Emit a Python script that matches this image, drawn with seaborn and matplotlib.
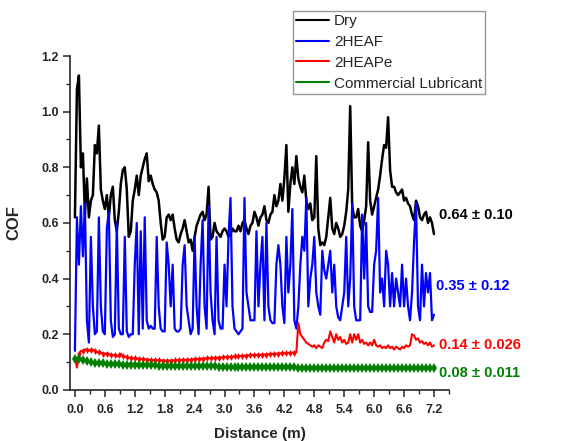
import numpy as np
import pandas as pd
import matplotlib
matplotlib.use("Agg")
import matplotlib.pyplot as plt
from matplotlib.lines import Line2D
from matplotlib.ticker import MultipleLocator, FormatStrFormatter
import seaborn as sns

# Sliding distance (m), shared by all four runs
distance = [
    0.00, 0.04, 0.08, 0.12, 0.16, 0.20, 0.24, 0.28, 0.32, 0.36,
    0.40, 0.44, 0.48, 0.52, 0.56, 0.60, 0.64, 0.68, 0.72, 0.76,
    0.80, 0.84, 0.88, 0.92, 0.96, 1.00, 1.04, 1.08, 1.12, 1.16,
    1.20, 1.24, 1.28, 1.32, 1.36, 1.40, 1.44, 1.48, 1.52, 1.56,
    1.60, 1.64, 1.68, 1.72, 1.76, 1.80, 1.84, 1.88, 1.92, 1.96,
    2.00, 2.04, 2.08, 2.12, 2.16, 2.20, 2.24, 2.28, 2.32, 2.36,
    2.40, 2.44, 2.48, 2.52, 2.56, 2.60, 2.64, 2.68, 2.72, 2.76,
    2.80, 2.84, 2.88, 2.92, 2.96, 3.00, 3.04, 3.08, 3.12, 3.16,
    3.20, 3.24, 3.28, 3.32, 3.36, 3.40, 3.44, 3.48, 3.52, 3.56,
    3.60, 3.64, 3.68, 3.72, 3.76, 3.80, 3.84, 3.88, 3.92, 3.96,
    4.00, 4.04, 4.08, 4.12, 4.16, 4.20, 4.24, 4.28, 4.32, 4.36,
    4.40, 4.44, 4.48, 4.52, 4.56, 4.60, 4.64, 4.68, 4.72, 4.76,
    4.80, 4.84, 4.88, 4.92, 4.96, 5.00, 5.04, 5.08, 5.12, 5.16,
    5.20, 5.24, 5.28, 5.32, 5.36, 5.40, 5.44, 5.48, 5.52, 5.56,
    5.60, 5.64, 5.68, 5.72, 5.76, 5.80, 5.84, 5.88, 5.92, 5.96,
    6.00, 6.04, 6.08, 6.12, 6.16, 6.20, 6.24, 6.28, 6.32, 6.36,
    6.40, 6.44, 6.48, 6.52, 6.56, 6.60, 6.64, 6.68, 6.72, 6.76,
    6.80, 6.84, 6.88, 6.92, 6.96, 7.00, 7.04, 7.08, 7.12, 7.16,
    7.20,
]

cof_dry = [
    0.62, 1.08, 1.13, 0.80, 0.85, 0.63, 0.76, 0.62, 0.68, 0.70,
    0.88, 0.85, 0.95, 0.72, 0.68, 0.65, 0.70, 0.62, 0.70, 0.73,
    0.61, 0.57, 0.64, 0.74, 0.79, 0.80, 0.72, 0.55, 0.57, 0.68,
    0.72, 0.77, 0.70, 0.77, 0.80, 0.83, 0.85, 0.75, 0.77, 0.74,
    0.72, 0.71, 0.68, 0.60, 0.54, 0.55, 0.62, 0.63, 0.61, 0.63,
    0.58, 0.54, 0.53, 0.56, 0.58, 0.61, 0.57, 0.53, 0.54, 0.50,
    0.55, 0.59, 0.61, 0.63, 0.64, 0.61, 0.63, 0.73, 0.54, 0.55,
    0.60, 0.57, 0.56, 0.55, 0.57, 0.58, 0.57, 0.55, 0.56, 0.58,
    0.57, 0.57, 0.59, 0.57, 0.60, 0.61, 0.58, 0.56, 0.59, 0.60,
    0.64, 0.62, 0.59, 0.62, 0.63, 0.66, 0.61, 0.60, 0.63, 0.64,
    0.70, 0.66, 0.68, 0.74, 0.68, 0.76, 0.88, 0.64, 0.74, 0.80,
    0.74, 0.84, 0.76, 0.73, 0.71, 0.77, 0.68, 0.65, 0.67, 0.61,
    0.62, 0.84, 0.58, 0.52, 0.53, 0.52, 0.55, 0.62, 0.69, 0.58,
    0.56, 0.60, 0.58, 0.55, 0.56, 0.59, 0.64, 0.72, 1.02, 0.66,
    0.62, 0.62, 0.65, 0.59, 0.57, 0.61, 0.66, 0.89, 0.68, 0.63,
    0.66, 0.69, 0.72, 0.77, 0.83, 0.88, 0.87, 0.98, 0.79, 0.73,
    0.73, 0.71, 0.70, 0.71, 0.72, 0.68, 0.69, 0.67, 0.66, 0.63,
    0.61, 0.68, 0.66, 0.62, 0.61, 0.63, 0.64, 0.60, 0.62, 0.60,
    0.56,
]

cof_2heaf = [
    0.14, 0.62, 0.45, 0.66, 0.48, 0.67, 0.25, 0.17, 0.55, 0.30,
    0.20, 0.21, 0.62, 0.30, 0.21, 0.20, 0.58, 0.64, 0.25, 0.19,
    0.20, 0.60, 0.22, 0.20, 0.20, 0.55, 0.21, 0.19, 0.20, 0.20,
    0.45, 0.60, 0.20, 0.57, 0.22, 0.62, 0.25, 0.22, 0.23, 0.22,
    0.22, 0.55, 0.30, 0.22, 0.21, 0.21, 0.53, 0.45, 0.30, 0.45,
    0.22, 0.21, 0.21, 0.22, 0.45, 0.52, 0.30, 0.25, 0.20, 0.22,
    0.55, 0.30, 0.20, 0.45, 0.61, 0.30, 0.22, 0.66, 0.35, 0.25,
    0.20, 0.55, 0.25, 0.22, 0.22, 0.45, 0.30, 0.55, 0.69, 0.30,
    0.22, 0.21, 0.20, 0.21, 0.22, 0.69, 0.35, 0.30, 0.25, 0.25,
    0.25, 0.57, 0.30, 0.45, 0.55, 0.25, 0.60, 0.30, 0.25, 0.24,
    0.24, 0.45, 0.52, 0.45, 0.30, 0.24, 0.55, 0.35, 0.45, 0.65,
    0.25, 0.22, 0.30, 0.45, 0.55, 0.50, 0.69, 0.30, 0.40, 0.45,
    0.55, 0.35, 0.30, 0.27, 0.50, 0.43, 0.40, 0.45, 0.50, 0.35,
    0.45, 0.30, 0.26, 0.25, 0.30, 0.35, 0.55, 0.30, 0.40, 0.67,
    0.30, 0.25, 0.25, 0.25, 0.63, 0.40, 0.60, 0.30, 0.28, 0.28,
    0.45, 0.50, 0.69, 0.35, 0.40, 0.30, 0.50, 0.45, 0.30, 0.42,
    0.30, 0.40, 0.35, 0.30, 0.45, 0.30, 0.40, 0.30, 0.25, 0.35,
    0.53, 0.67, 0.30, 0.25, 0.45, 0.30, 0.42, 0.35, 0.42, 0.25,
    0.27,
]

cof_2heape = [
    0.12, 0.08, 0.13, 0.14, 0.14, 0.145, 0.145, 0.14, 0.145, 0.145,
    0.14, 0.135, 0.135, 0.135, 0.13, 0.13, 0.13, 0.13, 0.125, 0.125,
    0.125, 0.12, 0.125, 0.13, 0.12, 0.12, 0.118, 0.116, 0.115, 0.114,
    0.113, 0.112, 0.112, 0.111, 0.110, 0.110, 0.109, 0.108, 0.108, 0.107,
    0.107, 0.106, 0.106, 0.106, 0.105, 0.105, 0.105, 0.105, 0.105, 0.106,
    0.106, 0.106, 0.107, 0.107, 0.108, 0.108, 0.108, 0.109, 0.109, 0.110,
    0.110, 0.111, 0.111, 0.112, 0.112, 0.113, 0.113, 0.114, 0.114, 0.115,
    0.115, 0.116, 0.116, 0.117, 0.117, 0.118, 0.118, 0.119, 0.119, 0.120,
    0.120, 0.121, 0.121, 0.122, 0.122, 0.123, 0.123, 0.124, 0.124, 0.125,
    0.125, 0.125, 0.126, 0.126, 0.127, 0.127, 0.127, 0.128, 0.128, 0.129,
    0.129, 0.130, 0.130, 0.131, 0.131, 0.132, 0.132, 0.133, 0.133, 0.134,
    0.134, 0.135, 0.24, 0.20, 0.19, 0.18, 0.17, 0.165, 0.16, 0.155,
    0.16, 0.15, 0.16, 0.155, 0.15, 0.17, 0.18, 0.175, 0.21, 0.19,
    0.17, 0.20, 0.18, 0.19, 0.17, 0.18, 0.165, 0.17, 0.20, 0.17,
    0.20, 0.18, 0.20, 0.17, 0.18, 0.165, 0.17, 0.16, 0.17, 0.16,
    0.18, 0.16, 0.155, 0.16, 0.15, 0.155, 0.15, 0.16, 0.15, 0.155,
    0.145, 0.155, 0.15, 0.145, 0.155, 0.15, 0.16, 0.155, 0.16, 0.20,
    0.195, 0.18, 0.185, 0.17, 0.175, 0.165, 0.17, 0.16, 0.17, 0.155,
    0.16,
]

cof_commercial = [
    0.110, 0.115, 0.112, 0.110, 0.108, 0.106, 0.104, 0.102, 0.100, 0.099,
    0.098, 0.097, 0.096, 0.096, 0.095, 0.095, 0.094, 0.094, 0.093, 0.093,
    0.092, 0.092, 0.092, 0.091, 0.091, 0.091, 0.090, 0.090, 0.090, 0.090,
    0.089, 0.089, 0.089, 0.089, 0.089, 0.088, 0.088, 0.088, 0.088, 0.088,
    0.088, 0.087, 0.087, 0.087, 0.087, 0.087, 0.087, 0.086, 0.086, 0.086,
    0.086, 0.086, 0.086, 0.086, 0.085, 0.085, 0.085, 0.085, 0.085, 0.085,
    0.085, 0.085, 0.084, 0.084, 0.084, 0.084, 0.084, 0.084, 0.084, 0.084,
    0.084, 0.083, 0.083, 0.083, 0.083, 0.083, 0.083, 0.083, 0.083, 0.083,
    0.083, 0.082, 0.082, 0.082, 0.082, 0.082, 0.082, 0.082, 0.082, 0.082,
    0.082, 0.082, 0.082, 0.081, 0.081, 0.081, 0.081, 0.081, 0.081, 0.081,
    0.081, 0.081, 0.081, 0.081, 0.081, 0.081, 0.081, 0.081, 0.081, 0.081,
    0.081, 0.080, 0.080, 0.080, 0.080, 0.080, 0.080, 0.080, 0.080, 0.080,
    0.080, 0.080, 0.080, 0.080, 0.080, 0.080, 0.080, 0.080, 0.080, 0.080,
    0.080, 0.080, 0.080, 0.080, 0.080, 0.080, 0.080, 0.080, 0.080, 0.080,
    0.080, 0.079, 0.079, 0.079, 0.079, 0.079, 0.079, 0.079, 0.079, 0.079,
    0.079, 0.079, 0.079, 0.079, 0.079, 0.079, 0.079, 0.079, 0.079, 0.079,
    0.079, 0.079, 0.079, 0.079, 0.079, 0.079, 0.079, 0.079, 0.079, 0.079,
    0.079, 0.079, 0.079, 0.079, 0.079, 0.079, 0.079, 0.079, 0.079, 0.079,
    0.079,
]

series_names = ["Dry", "2HEAF", "2HEAPe", "Commercial Lubricant"]
series_colors = ["#000000", "#0000FF", "#FF0000", "#008000"]
mean_labels = ["0.64 \u00b1 0.10", "0.35 \u00b1 0.12", "0.14 \u00b1 0.026", "0.08 \u00b1 0.011"]
label_y = [0.63, 0.375, 0.162, 0.062]
label_x = [7.31, 7.25, 7.31, 7.31]

df = pd.DataFrame({
    "Distance": distance,
    "Dry": cof_dry,
    "2HEAF": cof_2heaf,
    "2HEAPe": cof_2heape,
    "Commercial Lubricant": cof_commercial,
})

sns.set_style("ticks")
plt.rcParams['font.family'] = ['Liberation Sans', 'DejaVu Sans']

fig = plt.figure(figsize=(5.64, 4.41), dpi=100)
ax = fig.add_axes([0.124, 0.116, 0.672, 0.757])

# ---------- LINES
sns.lineplot(data=df, x="Distance", y="Dry", color=series_colors[0],
             linewidth=1.8, ax=ax, legend=False)
sns.lineplot(data=df, x="Distance", y="2HEAF", color=series_colors[1],
             linewidth=1.6, ax=ax, legend=False)
sns.lineplot(data=df, x="Distance", y="2HEAPe", color=series_colors[2],
             linewidth=1.5, marker="d", markersize=3.5, markeredgewidth=0,
             markevery=slice(2, 112, 2), ax=ax, legend=False)
sns.lineplot(data=df, x="Distance", y="Commercial Lubricant", color=series_colors[3],
             linewidth=1.5, marker="d", markersize=5.5, markeredgewidth=0,
             markevery=2, ax=ax, legend=False)

# ---------- AXES
ax.set_xlim(-0.1, 7.5)
ax.set_ylim(0, 1.2)
ax.set_xticks([0.0, 0.6, 1.2, 1.8, 2.4, 3.0, 3.6, 4.2, 4.8, 5.4, 6.0, 6.6, 7.2])
ax.xaxis.set_minor_locator(MultipleLocator(0.3))
ax.yaxis.set_major_locator(MultipleLocator(0.2))
ax.yaxis.set_minor_locator(MultipleLocator(0.1))
ax.xaxis.set_major_formatter(FormatStrFormatter("%.1f"))
ax.yaxis.set_major_formatter(FormatStrFormatter("%.1f"))
ax.tick_params(which="major", direction="out", length=5, width=1.1, labelsize=9)
ax.tick_params(axis="x", which="major", pad=5)
ax.tick_params(axis="y", which="major", pad=3)
ax.tick_params(which="minor", direction="out", length=3, width=1.0)
for lab in ax.get_xticklabels() + ax.get_yticklabels():
    lab.set_fontweight("bold")

sns.despine(ax=ax)
ax.spines["left"].set_linewidth(1.2)
ax.spines["bottom"].set_linewidth(1.2)

ax.set_xlabel("Distance (m)", fontsize=11, fontweight="bold", labelpad=8)
ax.set_ylabel("COF", fontsize=12, fontweight="bold", labelpad=14)

# mean +/- sd labels at the right end
for txt, xv, yv, col in zip(mean_labels, label_x, label_y, series_colors):
    ax.text(xv, yv, txt, color=col, fontsize=10.5, fontweight="bold",
            va="center", ha="left", clip_on=False)

# ---------- LEGEND
handles = [Line2D([0], [0], color=c, linewidth=1.5) for c in series_colors]
leg = fig.legend(handles, series_names, loc="upper left",
                 bbox_to_anchor=(0.519, 0.975), fontsize=11, frameon=True,
                 fancybox=False, handlelength=2.2, handletextpad=0.3,
                 borderpad=0.2, labelspacing=0.45, borderaxespad=0)
leg.get_frame().set_edgecolor("#808080")
leg.get_frame().set_linewidth(1.0)

plt.savefig("out.png", dpi=100)
